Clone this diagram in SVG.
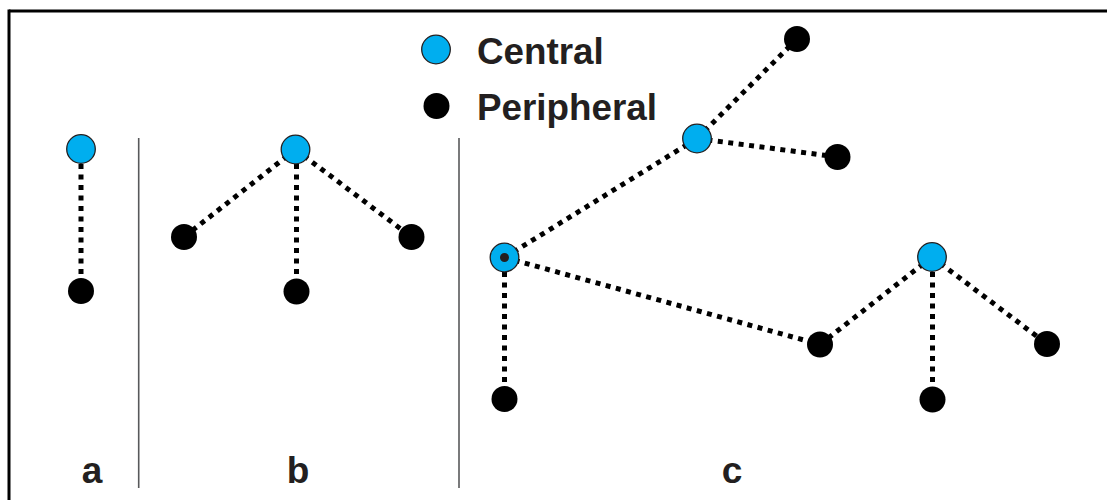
<svg xmlns="http://www.w3.org/2000/svg" width="1107" height="500" viewBox="0 0 1107 500">
<style>
.central{fill:#00aeef;stroke:#231f20;stroke-width:1.3}
.peripheral{fill:#000}
.link{stroke:#000;stroke-width:5;stroke-dasharray:5 5.5;fill:none}
.divider{stroke:#58595b;stroke-width:1.6}
.legend{font-family:"Liberation Sans",Arial,sans-serif;font-weight:bold;font-size:36.8px;fill:#231f20}
.label{font-family:"Liberation Sans",Arial,sans-serif;font-weight:bold;font-size:37px;fill:#231f20;text-anchor:middle}
</style>
<rect width="1107" height="500" fill="#fff"/>
<g id="frame">
<line x1="9" y1="11" x2="1107" y2="11" stroke="#000" stroke-width="3"/>
<line x1="9" y1="9.5" x2="9" y2="500" stroke="#000" stroke-width="3"/>
</g>
<g id="dividers">
<line class="divider" x1="138.7" y1="138" x2="138.7" y2="488"/>
<line class="divider" x1="459" y1="138" x2="459" y2="488"/>
</g>
<g id="connectors">
<line class="link" x1="81" y1="164" x2="81" y2="291"/>
<line class="link" x1="295.5" y1="149.5" x2="184" y2="237"/>
<line class="link" x1="296.5" y1="164" x2="296.5" y2="291.5"/>
<line class="link" x1="295.5" y1="149.5" x2="411.5" y2="237"/>
<line class="link" x1="697" y1="138.5" x2="797" y2="39"/>
<line class="link" x1="697" y1="138.5" x2="837.5" y2="157"/>
<line class="link" x1="504.5" y1="257.5" x2="697" y2="138.5"/>
<line class="link" x1="504.5" y1="257.5" x2="820" y2="344.5"/>
<line class="link" x1="504.5" y1="272" x2="504.5" y2="399"/>
<line class="link" x1="820" y1="344.5" x2="932" y2="257"/>
<line class="link" x1="932.5" y1="272" x2="932.5" y2="399.5"/>
<line class="link" x1="932" y1="257" x2="1047" y2="344"/>
</g>
<g id="legend">
<circle class="central" cx="436" cy="49.5" r="14.3"/>
<text class="legend" x="477" y="64">Central</text>
<circle class="peripheral" cx="436.5" cy="106" r="13"/>
<text class="legend" x="477" y="120">Peripheral</text>
</g>
<g id="node-a-central"><circle class="central" cx="81" cy="149" r="14.3"/></g>
<g id="node-a-p1"><circle class="peripheral" cx="81" cy="291" r="13"/></g>
<g id="node-b-central"><circle class="central" cx="295.5" cy="149.5" r="14.3"/></g>
<g id="node-b-p1"><circle class="peripheral" cx="184" cy="237" r="13"/></g>
<g id="node-b-p2"><circle class="peripheral" cx="296.5" cy="291.5" r="13"/></g>
<g id="node-b-p3"><circle class="peripheral" cx="411.5" cy="237" r="13"/></g>
<g id="node-c-central1"><circle class="central" cx="504.5" cy="257.5" r="14.3"/><circle cx="504.5" cy="257.5" r="4.5" fill="#231f20"/></g>
<g id="node-c-central2"><circle class="central" cx="697" cy="138.5" r="14.3"/></g>
<g id="node-c-central3"><circle class="central" cx="932" cy="257" r="14.3"/></g>
<g id="node-c-p1"><circle class="peripheral" cx="797" cy="39" r="13"/></g>
<g id="node-c-p2"><circle class="peripheral" cx="837.5" cy="157" r="13"/></g>
<g id="node-c-p3"><circle class="peripheral" cx="504.5" cy="399" r="13"/></g>
<g id="node-c-p4"><circle class="peripheral" cx="820" cy="344.5" r="13"/></g>
<g id="node-c-p5"><circle class="peripheral" cx="932.5" cy="399.5" r="13"/></g>
<g id="node-c-p6"><circle class="peripheral" cx="1047" cy="344" r="13"/></g>
<g id="labels">
<text class="label" x="92" y="483">a</text>
<text class="label" x="298" y="483">b</text>
<text class="label" x="732" y="483">c</text>
</g>
</svg>
